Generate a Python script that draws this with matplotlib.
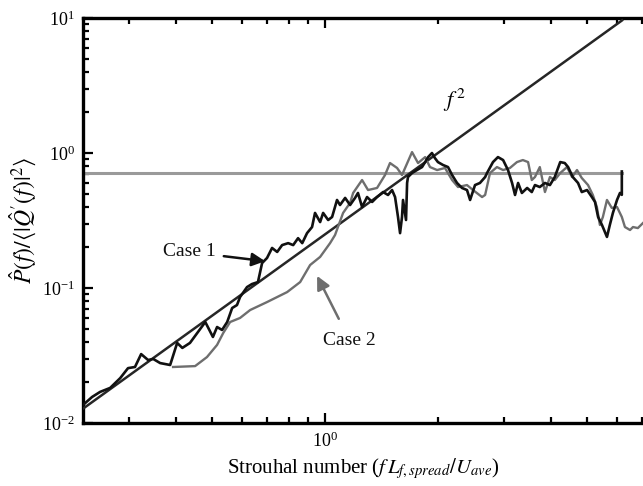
import numpy as np
import matplotlib.pyplot as plt
from matplotlib.ticker import LogLocator, NullFormatter

plt.rcParams['font.family'] = ['Liberation Serif', 'DejaVu Serif']
plt.rcParams['mathtext.fontset'] = 'stix'

# Case 1 spectrum (black)
case1_st = [0.226, 0.239, 0.251, 0.267, 0.284, 0.298, 0.311, 0.323, 0.337, 0.348,
            0.363, 0.386, 0.403, 0.416, 0.436, 0.479, 0.502, 0.515, 0.531, 0.548,
            0.565, 0.582, 0.593, 0.619, 0.638, 0.662, 0.679, 0.700, 0.722, 0.745,
            0.768, 0.797, 0.822, 0.847, 0.869, 0.895, 0.923, 0.940, 0.970, 0.988,
            1.019, 1.044, 1.076, 1.096, 1.131, 1.166, 1.202, 1.224, 1.255, 1.294,
            1.335, 1.376, 1.428, 1.472, 1.509, 1.537, 1.565, 1.585, 1.604, 1.614,
            1.644, 1.655, 1.664, 1.706, 1.758, 1.814, 1.849, 1.883, 1.928, 1.963,
            2.000, 2.064, 2.128, 2.182, 2.249, 2.319, 2.391, 2.437, 2.512, 2.589,
            2.673, 2.704, 2.805, 2.892, 2.985, 3.076, 3.154, 3.212, 3.273, 3.35,
            3.46, 3.56, 3.63, 3.74, 3.86, 3.98, 4.10, 4.24, 4.36, 4.45,
            4.58, 4.73, 4.84, 5.00, 5.15, 5.25, 5.35, 5.48, 5.65, 5.75,
            5.86, 6.01, 6.12, 6.19, 6.19]
case1_p = [0.0136, 0.0156, 0.0170, 0.0182, 0.0215, 0.0255, 0.0260, 0.0324, 0.0293, 0.0298,
           0.0278, 0.0269, 0.0392, 0.0360, 0.0392, 0.0560, 0.0434, 0.0514, 0.0489, 0.0560,
           0.0711, 0.0748, 0.0857, 0.1016, 0.107, 0.1107, 0.153, 0.167, 0.198, 0.185,
           0.208, 0.215, 0.208, 0.234, 0.215, 0.255, 0.283, 0.360, 0.308, 0.360,
           0.319, 0.336, 0.449, 0.412, 0.465, 0.412, 0.465, 0.506, 0.398, 0.472,
           0.434, 0.472, 0.514, 0.489, 0.532, 0.472, 0.336, 0.255, 0.336, 0.449,
           0.319, 0.600, 0.664, 0.711, 0.748, 0.787, 0.857, 0.933, 1.0, 0.918,
           0.857, 0.815, 0.787, 0.687, 0.600, 0.551, 0.532, 0.449, 0.579, 0.600,
           0.664, 0.711, 0.857, 0.933, 0.887, 0.748, 0.600, 0.489, 0.600, 0.506,
           0.551, 0.514, 0.579, 0.56, 0.600, 0.579, 0.664, 0.857, 0.843, 0.787,
           0.664, 0.600, 0.514, 0.532, 0.472, 0.434, 0.336, 0.293, 0.239, 0.293,
           0.360, 0.449, 0.506, 0.49, 0.73]

# Case 2 spectrum (grey)
case2_st = [0.393, 0.450, 0.484, 0.515, 0.535, 0.558, 0.593, 0.631, 0.700, 0.792,
            0.858, 0.912, 0.970, 1.031, 1.063, 1.117, 1.166, 1.188, 1.255, 1.302,
            1.376, 1.445, 1.490, 1.556, 1.604, 1.706, 1.770, 1.849, 1.905, 1.990,
            2.089, 2.182, 2.263, 2.391, 2.481, 2.623, 2.673, 2.754, 2.874, 2.985,
            3.113, 3.25, 3.37, 3.48, 3.56, 3.63, 3.74, 3.86, 3.98, 4.10,
            4.24, 4.42, 4.56, 4.70, 4.84, 5.03, 5.18, 5.31, 5.41, 5.51,
            5.65, 5.82, 6.01, 6.19, 6.31, 6.51, 6.63, 6.83, 7.05]
case2_p = [0.0260, 0.0264, 0.0308, 0.0379, 0.0465, 0.0560, 0.060, 0.0687, 0.0787, 0.0933,
           0.1107, 0.148, 0.170, 0.215, 0.247, 0.360, 0.427, 0.506, 0.631, 0.532,
           0.551, 0.687, 0.843, 0.775, 0.687, 1.016, 0.843, 0.933, 0.787, 0.748,
           0.775, 0.631, 0.56, 0.579, 0.532, 0.472, 0.489, 0.711, 0.787, 0.748,
           0.775, 0.857, 0.887, 0.857, 0.631, 0.664, 0.787, 0.514, 0.664, 0.631,
           0.711, 0.787, 0.664, 0.748, 0.653, 0.579, 0.489, 0.398, 0.293, 0.336,
           0.449, 0.392, 0.398, 0.336, 0.283, 0.269, 0.283, 0.278, 0.303]

# reference level and f^2 slope
level_st = [0.226, 6.19]
level_p = [0.71, 0.71]
slope_st = [0.226, 6.2]
slope_coef = 0.25

fig = plt.figure(figsize=(6.43, 4.86), dpi=100)
ax = fig.add_axes([0.1291, 0.1296, 0.8709, 0.8333])

ax.plot(level_st, level_p, color='#9a9a9a', lw=2.2, zorder=2)
ax.plot(slope_st, slope_coef * np.array(slope_st) ** 2, color='#262626', lw=1.8, zorder=3)
ax.plot(case2_st, case2_p, color='#6e6e6e', lw=1.7, zorder=3)
ax.plot(case1_st, case1_p, color='#111111', lw=1.9, zorder=4)

ax.set_xscale('log')
ax.set_yscale('log')
ax.set_xlim(0.226, 7.05)
ax.set_ylim(0.01, 10)

ax.xaxis.set_minor_locator(LogLocator(base=10, subs=np.arange(2, 10)))
ax.xaxis.set_minor_formatter(NullFormatter())
ax.yaxis.set_minor_formatter(NullFormatter())
ax.tick_params(which='both', direction='in', top=True, right=False, width=1.6,
               labelsize=13, pad=6)
ax.tick_params(which='major', length=7)
ax.tick_params(which='minor', length=4)
for side in ['left', 'bottom', 'top']:
    ax.spines[side].set_linewidth(2.4)
ax.spines['right'].set_visible(False)

ax.set_xlabel(r"Strouhal number ($f\,L_{f,spread}/U_{ave}$)", fontsize=15, labelpad=4)
ax.set_ylabel(r"$\hat{P}(f)/\langle|\hat{Q}'(f)|^2\rangle$", fontsize=17, labelpad=2)

ax.annotate("Case 1", xy=(0.692, 0.158), xytext=(0.51, 0.185), fontsize=14,
            ha='right', va='center', color='#111111',
            arrowprops=dict(arrowstyle='-|>', color='#111111', lw=1.8,
                            mutation_scale=20, shrinkA=4, shrinkB=0))
ax.annotate("Case 2", xy=(0.952, 0.123), xytext=(0.988, 0.0412), fontsize=14,
            ha='left', va='center', color='#111111',
            arrowprops=dict(arrowstyle='-|>', color='#6e6e6e', lw=1.8,
                            mutation_scale=20, shrinkA=8, shrinkB=0))
ax.text(2.06, 2.45, r"$f^{\,2}$", fontsize=16, ha='left', va='center')

fig.savefig('out.png', dpi=100)
